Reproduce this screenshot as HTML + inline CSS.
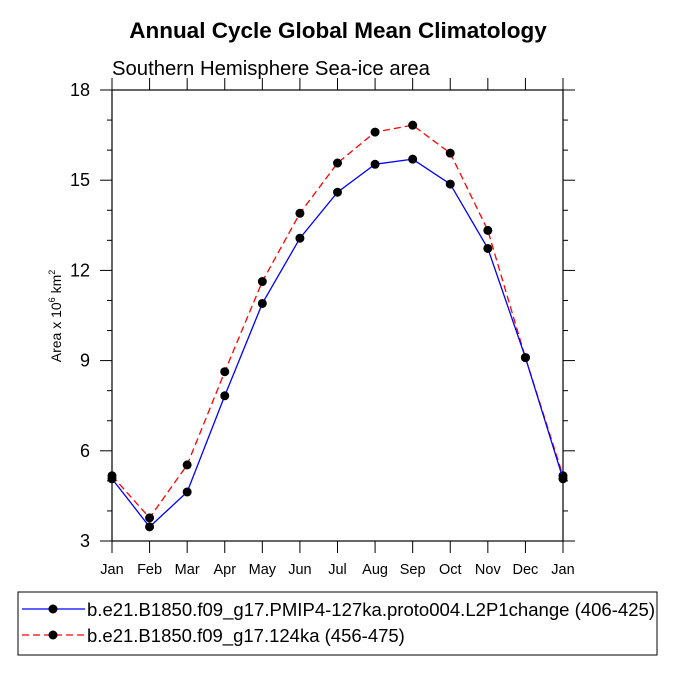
<!DOCTYPE html>
<html><head><style>
body{margin:0;background:#fff;}
svg text{font-family:"Liberation Sans",Helvetica,sans-serif;}
</style></head><body>
<svg width="675" height="675" viewBox="0 0 675 675">
<text x="338" y="38" text-anchor="middle" font-size="22.5" font-weight="bold">Annual Cycle Global Mean Climatology</text>
<text x="112" y="75" font-size="20.3">Southern Hemisphere Sea-ice area</text>
<text transform="translate(61,316) rotate(-90)" text-anchor="middle" font-size="14">Area x 10<tspan font-size="9" dy="-6">6</tspan><tspan dy="6"> km</tspan><tspan font-size="9" dy="-6">2</tspan></text>
<g id="axes"></g>
<g id="series"></g>
<rect x="18" y="592" width="639" height="63" fill="none" stroke="#000" stroke-width="1"/>
<g>
<line x1="22" y1="609" x2="85" y2="609" stroke="#00f" stroke-width="1.3"/>
<circle cx="53" cy="609" r="4.5" fill="#000"/>
<text x="87" y="616" font-size="18.5" textLength="568" lengthAdjust="spacingAndGlyphs">b.e21.B1850.f09_g17.PMIP4-127ka.proto004.L2P1change (406-425)</text>
</g>
<g>
<line x1="22" y1="635" x2="85" y2="635" stroke="#f00" stroke-width="1.3" stroke-dasharray="7,4"/>
<circle cx="53" cy="635" r="4.5" fill="#000"/>
<text x="87" y="642" font-size="18.5">b.e21.B1850.f09_g17.124ka (456-475)</text>
</g>
</svg>
<script>
const months = ["Jan","Feb","Mar","Apr","May","Jun","Jul","Aug","Sep","Oct","Nov","Dec","Jan"];
const blueValues = [5.07,3.47,4.63,7.83,10.9,13.07,14.6,15.53,15.7,14.87,12.73,9.1,5.07];
const redValues = [5.17,3.77,5.53,8.63,11.63,13.9,15.57,16.6,16.83,15.9,13.33,9.1,5.17];
const yTicks = [3,6,9,12,15,18];
const NS="http://www.w3.org/2000/svg";
const L=112,R=563,T=90,B=541,yMin=3,yMax=18;
const xs=i=>L+(R-L)*i/(months.length-1);
const ys=v=>B-(v-yMin)/(yMax-yMin)*(B-T);
function mk(tag,attrs,parent){const e=document.createElementNS(NS,tag);for(const k in attrs)e.setAttribute(k,attrs[k]);parent.appendChild(e);return e;}
const ax=document.getElementById('axes');
const frame=mk('rect',{x:L,y:T,width:R-L,height:B-T,fill:'none',stroke:'#000','stroke-width':1.2},ax);


yTicks.forEach((v,i)=>{
  const y=ys(v);
  mk('line',{x1:L-12,y1:y,x2:L,y2:y,stroke:'#000','stroke-width':1},ax);
  mk('line',{x1:R,y1:y,x2:R+12,y2:y,stroke:'#000','stroke-width':1},ax);
  const t=mk('text',{x:L-22,y:y+6,'text-anchor':'end','font-size':18},ax);
  t.textContent=v;
  
  
  if(i<yTicks.length-1){for(let m=1;m<3;m++){const ym=ys(v+m);
    mk('line',{x1:L-5,y1:ym,x2:L,y2:ym,stroke:'#000','stroke-width':1},ax);
    mk('line',{x1:R,y1:ym,x2:R+5,y2:ym,stroke:'#000','stroke-width':1},ax);}}
});
months.forEach((m,i)=>{
  const x=xs(i);
  mk('line',{x1:x,y1:B,x2:x,y2:B+12,stroke:'#000','stroke-width':1},ax);
  mk('line',{x1:x,y1:T-12,x2:x,y2:T,stroke:'#000','stroke-width':1},ax);
  const t=mk('text',{x:x,y:B+33,'text-anchor':'middle','font-size':14.5},ax);
  t.textContent=m;
  
  
});
const sg=document.getElementById('series');
function drawSeries(vals,color,dash,name){
  const g=mk('g',{},sg);
  
  
  const pts=vals.map((v,i)=>xs(i)+','+ys(v)).join(' ');
  const a={points:pts,fill:'none',stroke:color,'stroke-width':1.3};
  if(dash)a['stroke-dasharray']=dash;
  mk('polyline',a,g);
  vals.forEach((v,i)=>{const c=mk('circle',{cx:xs(i),cy:ys(v),r:4.5,fill:'#000'},g);
    
    });
}
drawSeries(redValues,'#f00','7,4','series-124ka');
drawSeries(blueValues,'#00f',null,'series-127ka');
</script>
</body></html>
